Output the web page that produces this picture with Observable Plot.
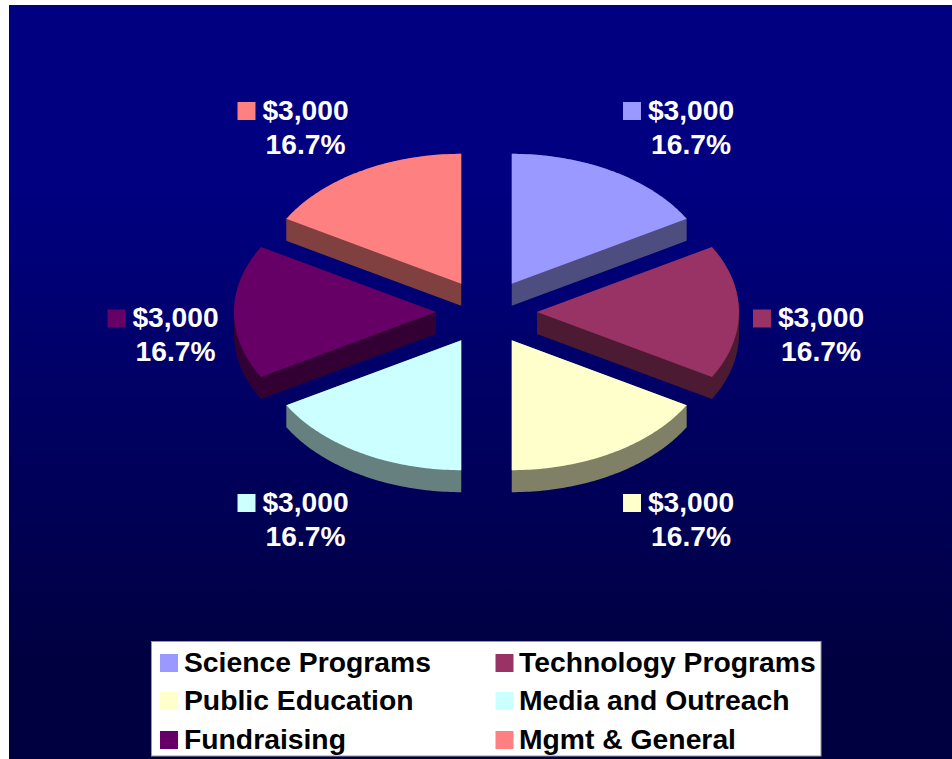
<!DOCTYPE html>
<html>
<head>
<meta charset="utf-8">
<script src="https://cdn.jsdelivr.net/npm/d3@7"></script>
<script src="https://cdn.jsdelivr.net/npm/@observablehq/plot@0.6"></script>
<style>
html,body{margin:0;padding:0;background:#fff;}
svg{display:block;}
</style>
</head>
<body>
<script>
const categories = ["Science Programs","Technology Programs","Public Education","Media and Outreach","Fundraising","Mgmt & General"];
const amounts = [3000,3000,3000,3000,3000,3000];
const shareLabels = ["16.7%","16.7%","16.7%","16.7%","16.7%","16.7%"];
const amountLabels = ["$3,000","$3,000","$3,000","$3,000","$3,000","$3,000"];
const topColors = ["#9999ff","#993366","#ffffcc","#ccffff","#660066","#ff8080"];
const sideColors = ["#4d4d80","#4d1a33","#808066","#668080","#330033","#804040"];

// Layout
const W = 952, H = 759;
const cx = 486, cy = 311.5, rx = 202, ry = 130, depth = 22, explode = 0.25;
const font = "'Liberation Sans', Arial, sans-serif";
const labelSize = 28.2, legendSize = 28.3;
const swatchR = 10.15; // Plot's square symbol has side sqrt(pi)*r, about 18px

const total = d3.sum(amounts);
let acc = 0;
const slices = categories.map((name, i) => {
  const a0 = acc / total * 2 * Math.PI;
  acc += amounts[i];
  const a1 = acc / total * 2 * Math.PI;
  const mid = (a0 + a1) / 2;
  const ax = cx + explode * rx * Math.sin(mid);
  const ay = cy - explode * ry * Math.cos(mid);
  const outline = [[ax, ay]];
  const n = 60;
  for (let k = 0; k <= n; ++k) {
    const t = a0 + (a1 - a0) * k / n;
    outline.push([ax + rx * Math.sin(t), ay - ry * Math.cos(t)]);
  }
  const s = Math.sin(mid), c = Math.cos(mid);
  const labelX = cx + Math.sign(s) * (62 + 260 * Math.abs(s)) + 12.5 + (s < 0 ? -1.5 : 0);
  const labelY = cy + (c > 0.5 ? -184.5 : c < -0.5 ? 207.5 : 23);
  return {name, i, outline, hull: d3.polygonHull(outline.concat(outline.map(([x, y]) => [x, y + depth]))), labelX, labelY};
});

const toRows = (pts) => pts.map(([x, y]) => ({x, y}));

const legendRows = categories.map((name, i) => ({
  name, i,
  sx: i % 2 ? 504 : 168.5,
  tx: i % 2 ? 518.5 : 183.5,
  y: [662.5, 700.5, 739.5][Math.floor(i / 2)]
}));

const defs = () => {
  const svgNS = "http://www.w3.org/2000/svg";
  const d = document.createElementNS(svgNS, "defs");
  d.innerHTML = `<linearGradient id="bg" x1="0" y1="0" x2="0" y2="1">
    <stop offset="0" stop-color="#000080"/><stop offset="0.25" stop-color="#000080"/><stop offset="0.88" stop-color="#000040"/><stop offset="1" stop-color="#000040"/></linearGradient>`;
  return d;
};

const chart = Plot.plot({
  width: W, height: H,
  margin: 0,
  style: {background: "#fff", fontFamily: font, overflow: "hidden"},
  x: {domain: [0, W], range: [0, W], axis: null},
  y: {domain: [0, H], range: [0, H], axis: null},
  marks: [
    defs,
    Plot.rect([{x1: 9, x2: W, y1: 5, y2: H}], {x1: "x1", x2: "x2", y1: "y1", y2: "y2", fill: "url(#bg)"}),
    ...slices.map(s => Plot.line(toRows(s.hull.concat([s.hull[0]])), {x: "x", y: "y", fill: sideColors[s.i], stroke: "none", curve: "linear"})),
    ...slices.map(s => Plot.line(toRows(s.outline.concat([s.outline[0]])), {x: "x", y: "y", fill: topColors[s.i], stroke: "none", curve: "linear"})),
    // Data labels
    Plot.dot(slices, {x: d => d.labelX - 59, y: d => d.labelY - 16.5, symbol: "square", r: swatchR, fill: d => topColors[d.i], stroke: "none"}),
    Plot.text(slices, {x: "labelX", y: d => d.labelY - 17, text: d => amountLabels[d.i], fill: "#fff", fontSize: labelSize, fontWeight: "bold", textAnchor: "middle"}),
    Plot.text(slices, {x: "labelX", y: d => d.labelY + 17, text: d => shareLabels[d.i], fill: "#fff", fontSize: labelSize, fontWeight: "bold", textAnchor: "middle"}),
    // Legend
    Plot.rect([{x1: 151.5, x2: 821, y1: 641.5, y2: 756}], {x1: "x1", x2: "x2", y1: "y1", y2: "y2", fill: "#fff", stroke: "#999", strokeWidth: 1}),
    Plot.dot(legendRows, {x: "sx", y: "y", symbol: "square", r: swatchR, fill: d => topColors[d.i], stroke: "none"}),
    Plot.text(legendRows, {x: "tx", y: "y", text: "name", fill: "#000", fontSize: legendSize, fontWeight: "bold", textAnchor: "start"})
  ]
});
document.body.appendChild(chart);
</script>
</body>
</html>
